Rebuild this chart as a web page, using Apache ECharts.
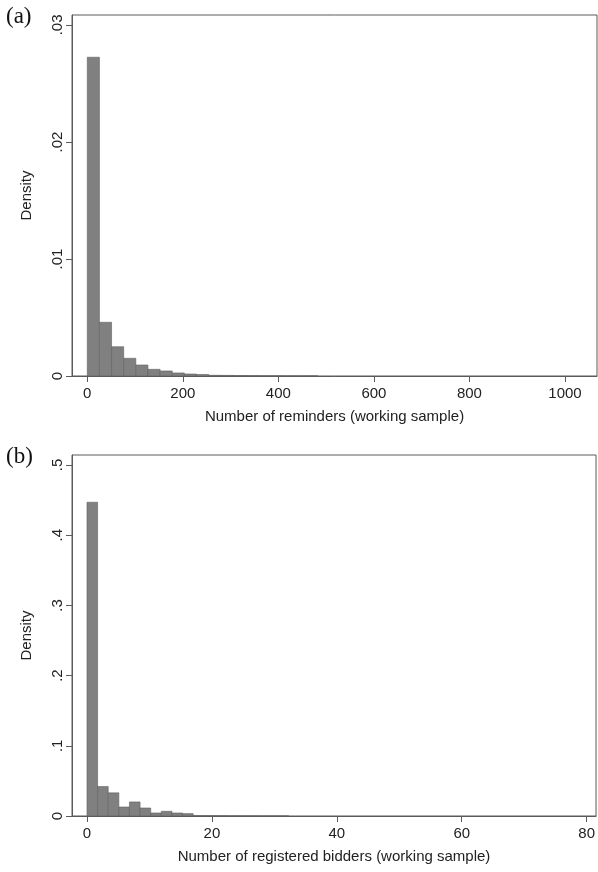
<!DOCTYPE html>
<html>
<head>
<meta charset="utf-8">
<script src="https://cdn.jsdelivr.net/npm/echarts@6/dist/echarts.min.js"></script>
<style>
  html, body { margin: 0; padding: 0; background: #fff; }
  #chart { width: 598px; height: 872px; }
</style>
</head>
<body>
<div id="chart"></div>
<script>
// (a) number of reminders: bin width and density per bin, starting at 0
var reminderBinWidth = 25.4;
var reminderDensity = [
  0.02724, 0.00459, 0.0025, 0.00151, 0.00094, 0.00057, 0.00043, 0.00026,
  0.00017, 0.00013, 0.00006, 0.00005, 0.00004, 0.00003, 0.00002, 0.00002,
  0.00001, 0.00001, 0.00001, 0, 0, 0, 0, 0,
  0, 0, 0, 0, 0, 0, 0, 0,
  0, 0, 0, 0, 0, 0, 0, 0
];
var reminderTicks = [0, 200, 400, 600, 800, 1000];
var reminderYTicks = [0, 0.01, 0.02, 0.03];

// (b) number of registered bidders
var bidderBinWidth = 1.7;
var bidderDensity = [
  0.447, 0.042, 0.033, 0.0128, 0.020, 0.0114, 0.0043, 0.0067,
  0.0043, 0.0034, 0.0006, 0.0005, 0.0004, 0.0003, 0.0002, 0.0002,
  0.0001, 0.0001, 0.0001, 0, 0, 0, 0, 0,
  0, 0, 0, 0, 0, 0, 0, 0,
  0, 0, 0, 0, 0, 0, 0, 0, 0, 0, 0, 0, 0, 0, 0
];
var bidderTicks = [0, 20, 40, 60, 80];
var bidderYTicks = [0, 0.1, 0.2, 0.3, 0.4, 0.5];

var textColor = '#222';
var lineColor = '#5a5a5a';
var fontFamily = '"Liberation Sans", Arial, sans-serif';

function toBins(density, width) {
  return density.map(function (d, i) { return [i * width, (i + 1) * width, d]; })
    .filter(function (b) { return b[2] > 0; });
}

function renderBar(params, api) {
  var top = api.coord([api.value(0), api.value(2)]);
  var base = api.coord([api.value(1), 0]);
  return {
    type: 'rect',
    shape: { x: top[0], y: top[1], width: base[0] - top[0], height: base[1] - top[1] },
    style: { fill: '#808080', stroke: '#606060', lineWidth: 0.6 }
  };
}

function densityLabel(v) {
  return v === 0 ? '0' : String(+v.toFixed(3)).replace(/^0/, '');
}

function xAxisFor(idx, min, max, ticks, name) {
  return {
    type: 'value', gridIndex: idx, min: min, max: max,
    name: name, nameLocation: 'middle', nameGap: 33,
    nameTextStyle: { color: textColor, fontSize: 15, fontFamily: fontFamily },
    axisLine: { show: true, onZero: false, lineStyle: { color: lineColor, width: 1 } },
    axisTick: { show: true, length: 6, customValues: ticks, lineStyle: { color: lineColor } },
    axisLabel: {
      customValues: ticks, margin: 10, color: textColor, fontSize: 15, fontFamily: fontFamily,
      formatter: function (v) { return String(v); }
    },
    splitLine: { show: false }
  };
}

function yAxisFor(idx, max, ticks) {
  return {
    type: 'value', gridIndex: idx, min: 0, max: max,
    name: 'Density', nameLocation: 'middle', nameGap: 38,
    nameTextStyle: { color: textColor, fontSize: 15, fontFamily: fontFamily },
    axisLine: { show: true, onZero: false, lineStyle: { color: lineColor, width: 1 } },
    axisTick: { show: true, length: 6, customValues: ticks, lineStyle: { color: lineColor } },
    axisLabel: {
      customValues: ticks, rotate: 90, margin: 7, color: textColor,
      fontSize: 15, fontFamily: fontFamily, formatter: densityLabel
    },
    splitLine: { show: false }
  };
}

var chart = echarts.init(document.getElementById('chart'), null, { renderer: 'canvas' });
chart.setOption({
  animation: false,
  backgroundColor: '#fff',
  graphic: [
    { type: 'text', left: 6, top: 5, style: { text: '(a)', fontSize: 23, fontFamily: '"Liberation Serif", serif', fill: '#111' } },
    { type: 'text', left: 6, top: 445, style: { text: '(b)', fontSize: 23, fontFamily: '"Liberation Serif", serif', fill: '#111' } }
  ],
  grid: [
    { left: 72, right: 1, top: 15, height: 361, show: true, borderColor: lineColor, borderWidth: 1 },
    { left: 72, right: 1, top: 455, height: 361, show: true, borderColor: lineColor, borderWidth: 1 }
  ],
  xAxis: [
    xAxisFor(0, -32, 1067, reminderTicks, 'Number of reminders (working sample)'),
    xAxisFor(1, -2.4, 81.5, bidderTicks, 'Number of registered bidders (working sample)')
  ],
  yAxis: [
    yAxisFor(0, 0.03085, reminderYTicks),
    yAxisFor(1, 0.5143, bidderYTicks)
  ],
  series: [
    { type: 'custom', xAxisIndex: 0, yAxisIndex: 0, renderItem: renderBar, data: toBins(reminderDensity, reminderBinWidth), silent: true },
    { type: 'custom', xAxisIndex: 1, yAxisIndex: 1, renderItem: renderBar, data: toBins(bidderDensity, bidderBinWidth), silent: true }
  ]
});
</script>
</body>
</html>
